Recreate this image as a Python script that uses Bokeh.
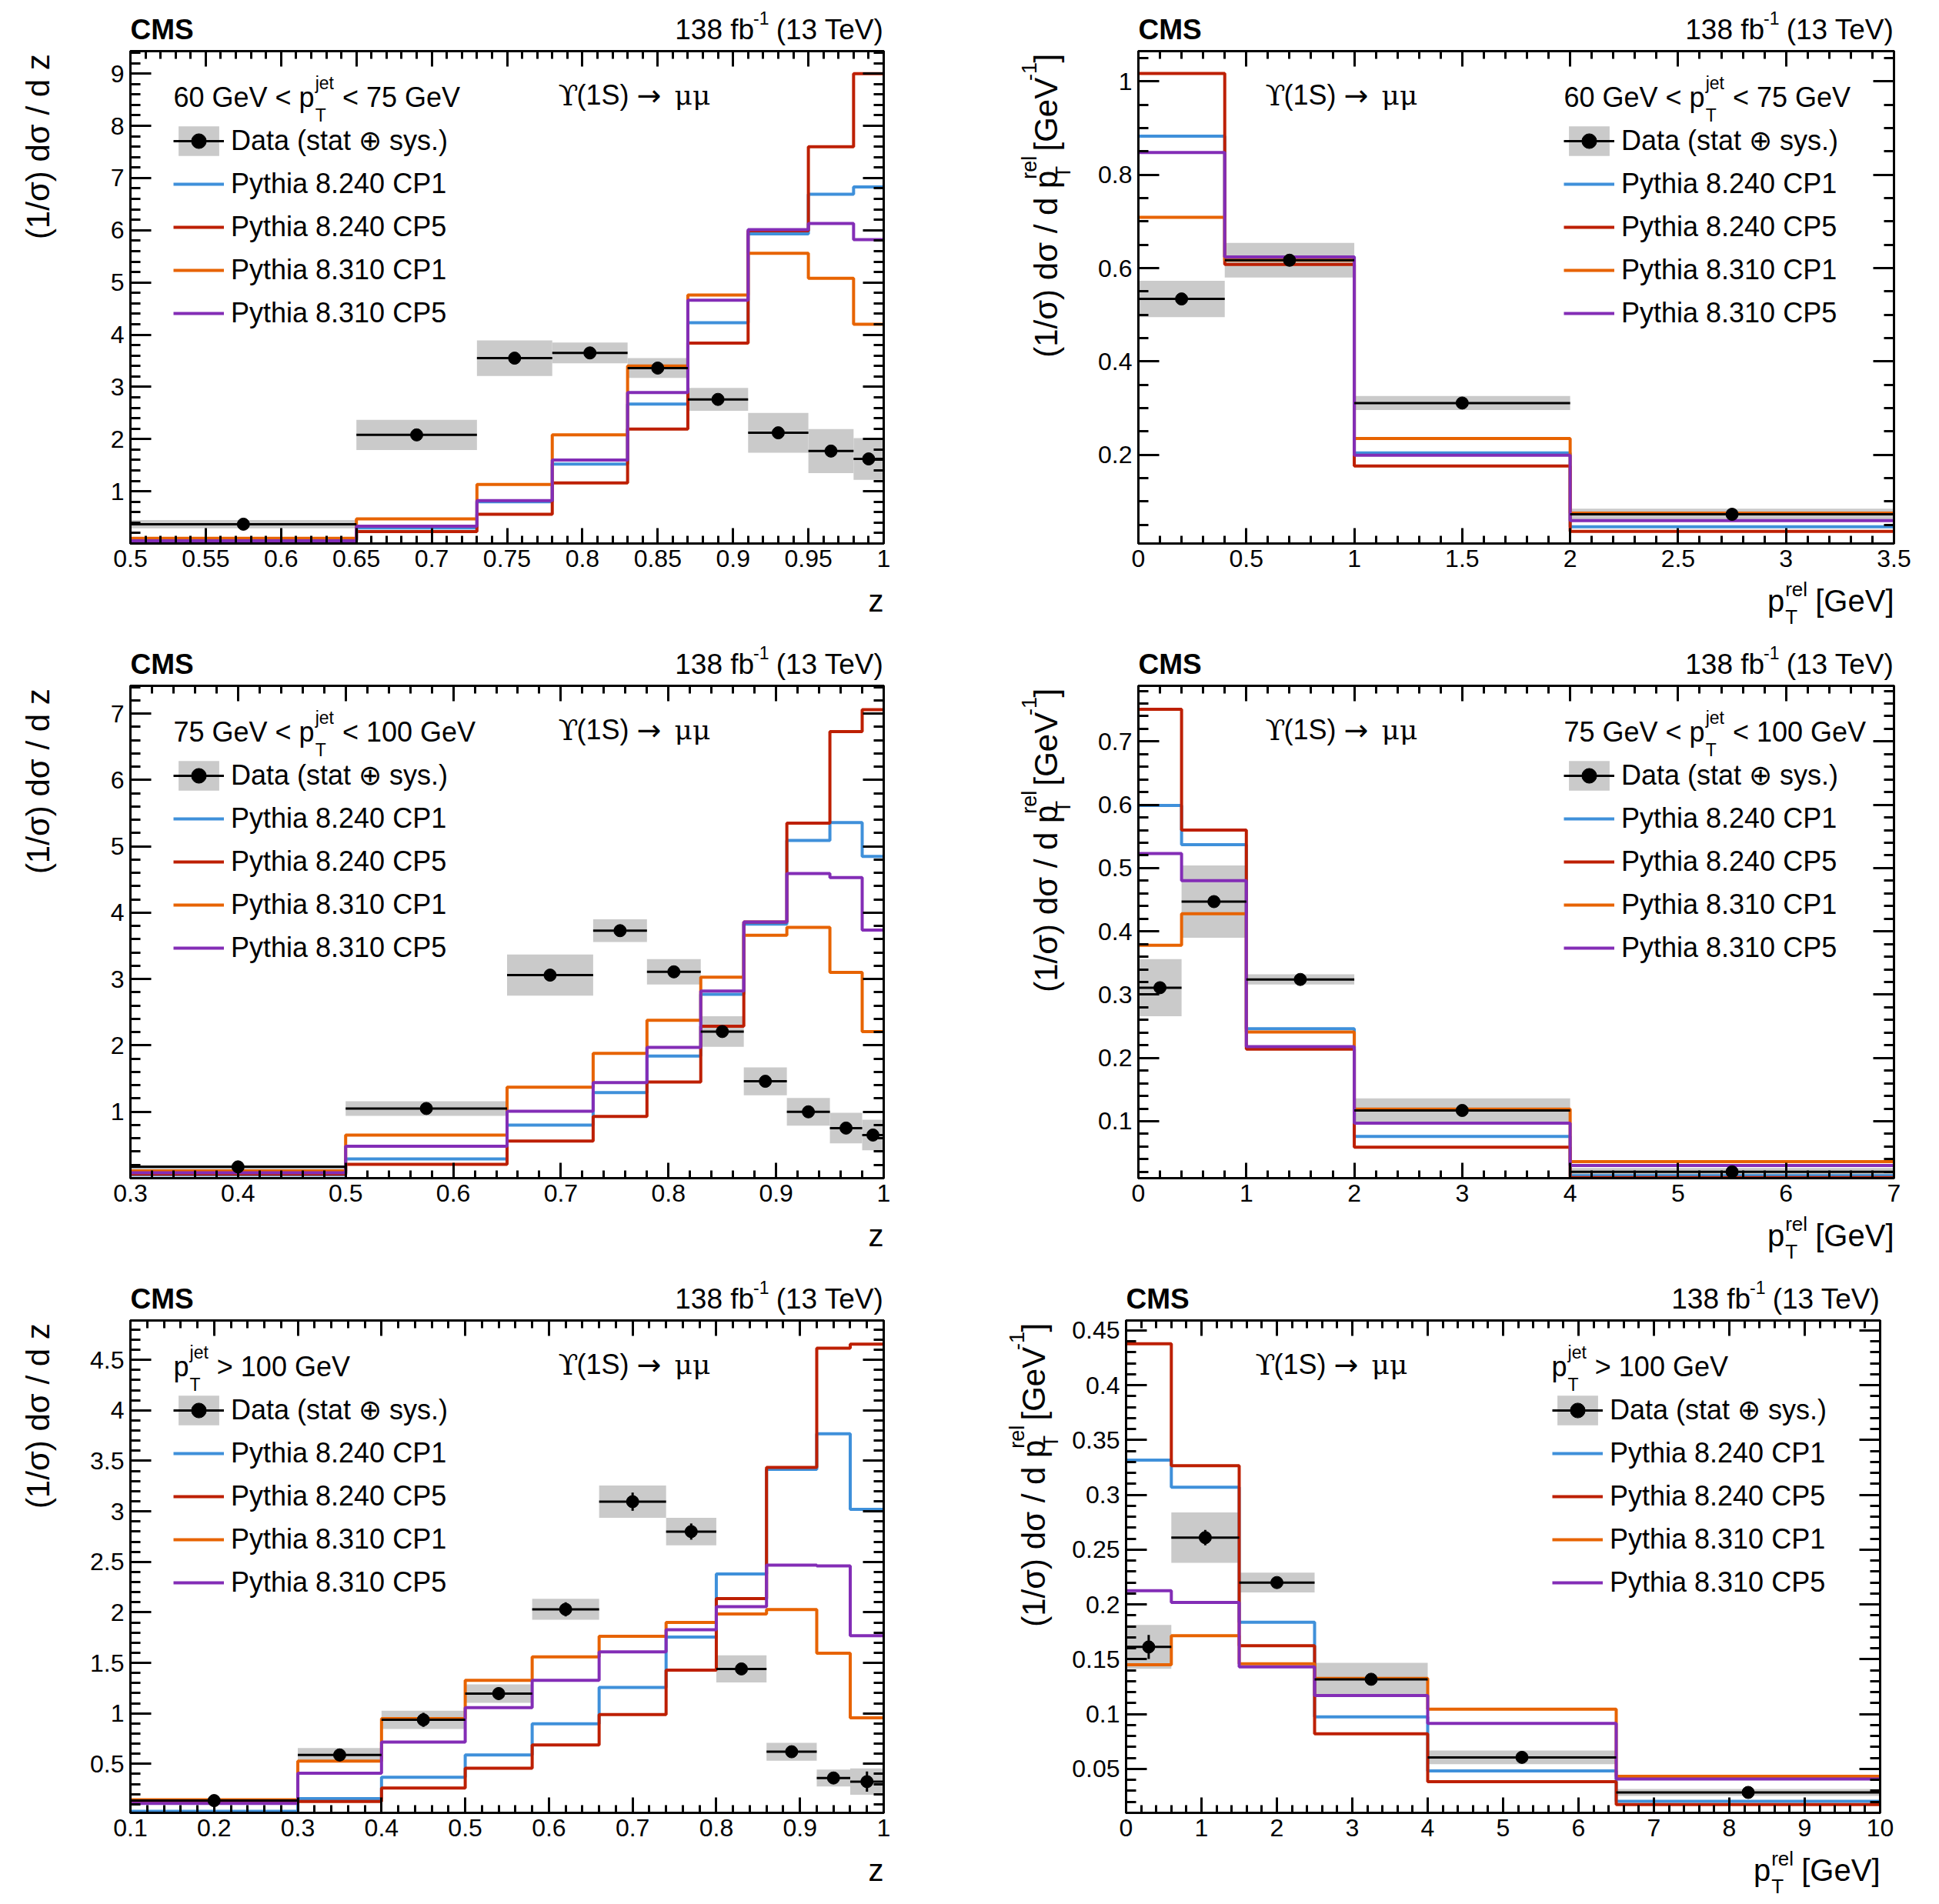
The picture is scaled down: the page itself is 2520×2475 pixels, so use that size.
import numpy as np
from math import pi
from bokeh.plotting import figure
from bokeh.models import (Range1d, LinearAxis, FixedTicker, CustomJSTickFormatter,
                          Label, Legend, LegendItem)
from bokeh.layouts import column, row
from bokeh.embed import file_html
from bokeh.resources import INLINE

FONT = "Liberation Sans"

# ---------------- common labels / colours ----------------
data_label = "Data (stat \u2295 sys.)"
mc_labels = ["Pythia 8.240 CP1", "Pythia 8.240 CP5", "Pythia 8.310 CP1", "Pythia 8.310 CP5"]
mc_colors = ["#3f90da", "#bd1f01", "#e76300", "#832db6"]
box_color = "#cacaca"

# ---------------- (a) z, 60 < pT < 75 GeV ----------------
za_edges = [0.5, 0.65, 0.73, 0.78, 0.83, 0.87, 0.91, 0.95, 0.98, 1.0]
za_data = [0.37, 2.08, 3.55, 3.65, 3.36, 2.76, 2.12, 1.77, 1.62]
za_tot = [0.08, 0.29, 0.34, 0.20, 0.19, 0.22, 0.38, 0.42, 0.40]
za_stat = [0.03, 0.06, 0.06, 0.05, 0.05, 0.05, 0.06, 0.06, 0.08]
za_cp1_240 = [0.05, 0.30, 0.80, 1.52, 2.67, 4.23, 5.93, 6.69, 6.83]
za_cp5_240 = [0.07, 0.23, 0.56, 1.16, 2.19, 3.84, 5.99, 7.60, 9.00]
za_cp1_310 = [0.10, 0.47, 1.13, 2.08, 3.40, 4.76, 5.56, 5.08, 4.20]
za_cp5_310 = [0.05, 0.33, 0.82, 1.60, 2.89, 4.66, 6.01, 6.13, 5.82]

# ---------------- (b) pTrel, 60 < pT < 75 GeV ----------------
pa_edges = [0.0, 0.4, 1.0, 2.0, 3.5]
pa_data = [0.534, 0.617, 0.311, 0.0726]
pa_tot = [0.039, 0.037, 0.015, 0.012]
pa_stat = [0.005, 0.005, 0.004, 0.002]
pa_cp1_240 = [0.883, 0.624, 0.204, 0.046]
pa_cp5_240 = [1.017, 0.608, 0.176, 0.036]
pa_cp1_310 = [0.709, 0.617, 0.235, 0.075]
pa_cp5_310 = [0.848, 0.624, 0.199, 0.059]

# ---------------- (c) z, 75 < pT < 100 GeV ----------------
zb_edges = [0.3, 0.5, 0.65, 0.73, 0.78, 0.83, 0.87, 0.91, 0.95, 0.98, 1.0]
zb_data = [0.17, 1.05, 3.06, 3.73, 3.11, 2.21, 1.46, 1.00, 0.755, 0.65]
zb_tot = [0.03, 0.11, 0.31, 0.17, 0.19, 0.23, 0.21, 0.21, 0.23, 0.23]
zb_stat = [0.02, 0.04, 0.06, 0.06, 0.05, 0.05, 0.05, 0.05, 0.05, 0.06]
zb_cp1_240 = [0.05, 0.29, 0.80, 1.29, 1.84, 2.77, 3.83, 5.09, 5.36, 4.85]
zb_cp5_240 = [0.06, 0.21, 0.56, 0.93, 1.45, 2.29, 3.86, 5.35, 6.73, 7.06]
zb_cp1_310 = [0.11, 0.65, 1.37, 1.88, 2.38, 3.03, 3.66, 3.78, 3.10, 2.21]
zb_cp5_310 = [0.08, 0.48, 1.01, 1.44, 1.97, 2.82, 3.86, 4.59, 4.53, 3.74]

# ---------------- (d) pTrel, 75 < pT < 100 GeV ----------------
pb_edges = [0.0, 0.4, 1.0, 2.0, 4.0, 7.0]
pb_data = [0.311, 0.447, 0.324, 0.117, 0.020]
pb_tot = [0.045, 0.057, 0.008, 0.019, 0.006]
pb_stat = [0.006, 0.006, 0.004, 0.002, 0.001]
pb_cp1_240 = [0.599, 0.537, 0.246, 0.076, 0.014]
pb_cp5_240 = [0.751, 0.560, 0.214, 0.059, 0.011]
pb_cp1_310 = [0.378, 0.428, 0.241, 0.119, 0.036]
pb_cp5_310 = [0.523, 0.480, 0.218, 0.097, 0.030]

# ---------------- (e) z, pT > 100 GeV ----------------
zc_edges = [0.1, 0.3, 0.4, 0.5, 0.58, 0.66, 0.74, 0.8, 0.86, 0.92, 0.96, 1.0]
zc_data = [0.136, 0.588, 0.936, 1.196, 2.03, 3.096, 2.80, 1.44, 0.62, 0.36, 0.324]
zc_tot = [0.02, 0.068, 0.091, 0.092, 0.104, 0.16, 0.136, 0.134, 0.088, 0.084, 0.13]
zc_stat = [0.06, 0.06, 0.07, 0.06, 0.07, 0.09, 0.08, 0.04, 0.03, 0.04, 0.10]
zc_cp1_240 = [0.03, 0.156, 0.368, 0.588, 0.896, 1.256, 1.756, 2.38, 3.416, 3.768, 3.02]
zc_cp5_240 = [0.128, 0.128, 0.26, 0.456, 0.688, 0.988, 1.428, 2.136, 3.436, 4.616, 4.656]
zc_cp1_310 = [0.144, 0.528, 0.948, 1.328, 1.56, 1.764, 1.90, 1.984, 2.028, 1.596, 0.956]
zc_cp5_310 = [0.108, 0.408, 0.716, 1.056, 1.328, 1.608, 1.828, 2.056, 2.468, 2.46, 1.768]

# ---------------- (f) pTrel, pT > 100 GeV ----------------
pc_edges = [0.0, 0.6, 1.5, 2.5, 4.0, 6.5, 10.0]
pc_data = [0.1613, 0.261, 0.220, 0.1318, 0.0606, 0.0286]
pc_tot = [0.020, 0.023, 0.009, 0.015, 0.0063, 0.0032]
pc_stat = [0.011, 0.007, 0.004, 0.003, 0.002, 0.001]
pc_cp1_240 = [0.3317, 0.307, 0.1838, 0.0975, 0.0482, 0.0205]
pc_cp5_240 = [0.4378, 0.3265, 0.1624, 0.082, 0.0385, 0.0176]
pc_cp1_310 = [0.145, 0.1716, 0.1459, 0.1326, 0.1046, 0.0434]
pc_cp5_310 = [0.2126, 0.2019, 0.1432, 0.117, 0.0916, 0.0408]

# ---------------- text width helper (Arial / Liberation Sans metrics) ----------------
AW = {" ": 278, "(": 333, ")": 333, "[": 278, "]": 278, "/": 278, "-": 333, ".": 278,
      "<": 584, ">": 584, "\u03c3": 560, "\u03bc": 577}
for ch in "0123456789":
    AW[ch] = 556
AW.update(dict(zip("abcdefghijklmnopqrstuvwxyz",
                   [556, 556, 500, 556, 556, 278, 556, 556, 222, 222, 500, 222, 833,
                    556, 556, 556, 556, 333, 500, 278, 556, 500, 722, 500, 500, 500])))
AW.update(dict(zip("ABCDEFGHIJKLMNOPQRSTUVWXYZ",
                   [667, 667, 722, 722, 667, 611, 778, 722, 278, 500, 667, 556, 833,
                    722, 778, 667, 778, 722, 667, 611, 722, 667, 944, 667, 667, 611])))


def tw(s, size):
    return sum(AW.get(c, 556) for c in s) / 1000.0 * size


def ticks(a, b, step):
    n = int(round((b - a) / step))
    return [round(a + i * step, 6) for i in range(n + 1)]


def lab(p, text, x, y, dx, dy, size, align="left", bold=False, angle=0.0, font=FONT):
    p.add_layout(Label(x=x, y=y, x_offset=dx, y_offset=dy, text=text, text_font=font,
                       text_font_size=f"{size}px", text_align=align, text_baseline="middle",
                       text_font_style="bold" if bold else "normal", angle=angle,
                       text_color="black"))


def vlab(p, text, xc, start, size):
    """Rotated (bottom-to-top) text whose start lies at `start`, centred on xc."""
    lab(p, text, xc, start + tw(text, size) / 2.0, 0, 0, size, align="center", angle=pi / 2)


def text_fig(w, h):
    f = figure(width=w, height=h, x_range=Range1d(0, w), y_range=Range1d(0, h),
               output_backend="svg", toolbar_location=None, min_border=0,
               x_axis_location=None, y_axis_location=None)
    f.grid.visible = False
    f.outline_line_color = None
    f.background_fill_color = "white"
    f.border_fill_color = "white"
    return f


def style_axis(ax, ticker, major_len, minor_len, labels):
    ax.ticker = ticker
    ax.axis_line_width = 3
    ax.axis_line_color = "black"
    ax.major_tick_in = major_len
    ax.major_tick_out = 0
    ax.minor_tick_in = minor_len
    ax.minor_tick_out = 0
    ax.major_tick_line_width = 3
    ax.minor_tick_line_width = 3
    ax.major_tick_line_color = "black"
    ax.minor_tick_line_color = "black"
    if labels:
        ax.formatter = CustomJSTickFormatter(code="return String(parseFloat(tick.toFixed(4)));")
        ax.major_label_text_font = FONT
        ax.major_label_text_font_size = "32px"
        ax.major_label_text_color = "black"
        ax.major_label_standoff = 8
    else:
        ax.formatter = CustomJSTickFormatter(code="return '';")
        ax.major_label_text_font_size = "0px"
        ax.major_label_standoff = 0


# layout constants (pixels)
TOP_H = 62          # height of the text strip above each panel
M_TOP = 4           # main figure top border
FRAME_H = 640
M_BOT = 46          # main figure bottom border (tick labels)
M_LEFT = 80         # main figure left border (tick labels)
MAIN_H = M_TOP + FRAME_H + M_BOT


def make_cell(c):
    x0, x1 = c["xr"]
    y0, y1 = c["yr"]
    cw, ch, wl, fw = c["cw"], c["ch"], c["wl"], c["fw"]
    mw = cw - wl
    bot_h = ch - TOP_H - MAIN_H

    p = figure(width=mw, height=MAIN_H, x_range=Range1d(x0, x1), y_range=Range1d(y0, y1),
               output_backend="svg", toolbar_location=None,
               min_border_left=M_LEFT, min_border_right=mw - M_LEFT - fw,
               min_border_top=M_TOP, min_border_bottom=M_BOT)
    p.grid.visible = False
    p.outline_line_color = "black"
    p.outline_line_width = 3
    p.background_fill_color = "white"
    p.border_fill_color = "white"

    xt = FixedTicker(ticks=c["xmaj"], minor_ticks=c["xmin"])
    yt = FixedTicker(ticks=c["ymaj"], minor_ticks=c["ymin"])
    style_axis(p.xaxis[0], xt, 20, 10, True)
    style_axis(p.yaxis[0], yt, 27, 13, True)
    top = LinearAxis()
    style_axis(top, xt, 20, 10, False)
    p.add_layout(top, "above")
    rgt = LinearAxis()
    style_axis(rgt, yt, 27, 13, False)
    p.add_layout(rgt, "right")

    edges = np.array(c["edges"], dtype=float)
    data = np.array(c["data"], dtype=float)
    tot = np.array(c["tot"], dtype=float)
    stat = np.array(c["stat"], dtype=float)
    left, right = edges[:-1], edges[1:]
    centers = 0.5 * (left + right)

    r_box = p.quad(left=left, right=right, bottom=data - tot, top=data + tot,
                   fill_color=box_color, line_color=None)
    mc_r = []
    for vals, col in zip(c["mc"], mc_colors):
        r = p.step(x=list(edges), y=list(vals) + [vals[-1]], mode="after",
                   line_color=col, line_width=4)
        mc_r.append(r)
    r_h = p.segment(x0=left, y0=data, x1=right, y1=data, line_color="black", line_width=3)
    p.segment(x0=centers, y0=data - stat, x1=centers, y1=data + stat,
              line_color="black", line_width=3)
    r_pt = p.scatter(x=centers, y=data, size=16, marker="circle",
                     fill_color="black", line_color="black")

    items = [LegendItem(label=data_label, renderers=[r_box, r_h, r_pt])]
    items += [LegendItem(label=l, renderers=[r]) for l, r in zip(mc_labels, mc_r)]
    leg = Legend(items=items, location=(c["leg_dx"] - 4, 275), orientation="vertical",
                 glyph_width=66, glyph_height=48, label_height=48, label_standoff=9,
                 spacing=8, padding=0, margin=0, border_line_alpha=0,
                 background_fill_alpha=0, label_text_font=FONT,
                 label_text_font_size="36px", label_text_baseline="middle",
                 label_text_color="black")
    p.add_layout(leg)

    sp36 = tw(" ", 36)

    # jet pT selection (inside frame)
    m1, m2 = c["sel"]
    hx = c["hdr_dx"]
    lab(p, m1, x0, y1, hx, -60, 36)
    xs = hx + tw(m1, 36) + 1
    lab(p, "jet", x0, y1, xs, -41, 23)
    lab(p, "T", x0, y1, xs, -83, 23)
    lab(p, m2, x0, y1, xs + max(tw("jet", 23), tw("T", 23)) + 1 + sp36, -60, 36)

    # decay channel
    ux = c["ups_dx"]
    lab(p, "\u03d2", x0, y1, ux + 4, -57, 38, font="DejaVu Serif")
    lab(p, "(1S)", x0, y1, ux + 28, -57, 36)
    lab(p, "\u2192", x0, y1, ux + 106, -57, 38, font="DejaVu Sans")
    lab(p, "\u03bc\u03bc", x0, y1, ux + 155, -57, 36, font="DejaVu Serif")

    # ---- strip above: CMS + luminosity ----
    t = text_fig(cw, TOP_H)
    fl = wl + M_LEFT            # frame left within the cell
    fr = fl + fw                # frame right within the cell
    ft = -M_TOP                 # frame top, in strip coordinates
    LS = 37
    lab(t, "CMS", fl, ft + 28, 0, 0, LS, bold=True)
    wa = tw("(13 TeV)", LS) + 5
    wb = tw("-1", 23)
    lab(t, "(13 TeV)", fr, ft + 28, 0, 0, LS, align="right")
    lab(t, "-1", fr, ft + 43, -wa, 0, 23, align="right")
    lab(t, "138 fb", fr, ft + 28, -wa - wb + 1, 0, LS, align="right")

    # ---- strip left: y title ----
    lf = text_fig(wl, MAIN_H)
    ytop = MAIN_H - M_TOP
    xc = wl + M_LEFT - 120
    M, S = 42, 27
    sp = tw(" ", M)
    if c["kind"] == "z":
        txt = "(1/\u03c3) d\u03c3 / d z"
        lab(lf, txt, xc, ytop, 0, 0, M, align="right", angle=pi / 2)
    else:
        main1 = "(1/\u03c3) d\u03c3 / d p"
        w1 = tw(main1, M)
        ws = max(tw("rel", S), tw("T", S))
        w2 = tw("[GeV", M) + sp
        w3 = tw("-1", S)
        w4 = tw("]", M)
        L = w1 + ws + w2 + w3 + w4 + 2
        pos = ytop - L
        vlab(lf, main1, xc, pos, M)
        vlab(lf, "rel", xc - 22, pos + w1 + 1, S)
        vlab(lf, "T", xc + 22, pos + w1 + 1, S)
        pos2 = pos + w1 + ws + 1
        vlab(lf, "[GeV", xc, pos2 + sp, M)
        vlab(lf, "-1", xc - 22, pos2 + w2, S)
        vlab(lf, "]", xc, pos2 + w2 + w3 + 1, M)

    # ---- strip below: x title ----
    b = text_fig(cw, bot_h)
    fb = bot_h + M_BOT          # frame bottom, in strip coordinates
    MX, SX = 40, 26
    if c["kind"] == "z":
        lab(b, "z", fr, fb - 74, 0, 0, MX, align="right")
    else:
        wg = tw("[GeV]", MX) + tw(" ", MX)
        wr = tw("rel", SX)
        lab(b, "[GeV]", fr, fb - 74, 0, 0, MX, align="right")
        lab(b, "p", fr - wg - wr, fb - 74, 0, 0, MX, align="right")
        lab(b, "rel", fr - wg - wr + 1, fb - 59, 0, 0, SX)
        lab(b, "T", fr - wg - wr + 1, fb - 95, 0, 0, SX)

    return column(t, row(lf, p), b)


sel_a = ("60 GeV < p", "< 75 GeV")
sel_b = ("75 GeV < p", "< 100 GeV")
sel_c = ("p", "> 100 GeV")

LEFT = dict(cw=1260, wl=89, fw=979, leg_dx=60, hdr_dx=56, ups_dx=552, kind="z")
RIGHT = dict(cw=1258, wl=139, fw=982, leg_dx=557, hdr_dx=553, ups_dx=161, kind="pt")
RIGHT3 = dict(cw=1258, wl=123, fw=980, leg_dx=558, hdr_dx=553, ups_dx=164, kind="pt")

panels = [
    dict(LEFT, ch=825, edges=za_edges, data=za_data, tot=za_tot, stat=za_stat,
         mc=[za_cp1_240, za_cp5_240, za_cp1_310, za_cp5_310],
         xr=(0.5, 1.0), yr=(0.0, 9.43),
         xmaj=ticks(0.5, 1.0, 0.05), xmin=ticks(0.5, 1.0, 0.01),
         ymaj=ticks(1, 9, 1), ymin=ticks(0.2, 9.4, 0.2), sel=sel_a),
    dict(RIGHT, ch=825, edges=pa_edges, data=pa_data, tot=pa_tot, stat=pa_stat,
         mc=[pa_cp1_240, pa_cp5_240, pa_cp1_310, pa_cp5_310],
         xr=(0.0, 3.5), yr=(0.01, 1.065),
         xmaj=ticks(0, 3.5, 0.5), xmin=ticks(0, 3.5, 0.1),
         ymaj=ticks(0.2, 1.0, 0.2), ymin=ticks(0.05, 1.05, 0.05), sel=sel_a),
    dict(LEFT, ch=825, edges=zb_edges, data=zb_data, tot=zb_tot, stat=zb_stat,
         mc=[zb_cp1_240, zb_cp5_240, zb_cp1_310, zb_cp5_310],
         xr=(0.3, 1.0), yr=(0.0, 7.42),
         xmaj=ticks(0.3, 1.0, 0.1), xmin=ticks(0.3, 1.0, 0.02),
         ymaj=ticks(1, 7, 1), ymin=ticks(0.2, 7.4, 0.2), sel=sel_b),
    dict(RIGHT, ch=825, edges=pb_edges, data=pb_data, tot=pb_tot, stat=pb_stat,
         mc=[pb_cp1_240, pb_cp5_240, pb_cp1_310, pb_cp5_310],
         xr=(0.0, 7.0), yr=(0.01, 0.788),
         xmaj=ticks(0, 7, 1), xmin=ticks(0, 7, 0.2),
         ymaj=ticks(0.1, 0.7, 0.1), ymin=ticks(0.02, 0.78, 0.02), sel=sel_b),
    dict(LEFT, ch=823, edges=zc_edges, data=zc_data, tot=zc_tot, stat=zc_stat,
         mc=[zc_cp1_240, zc_cp5_240, zc_cp1_310, zc_cp5_310],
         xr=(0.1, 1.0), yr=(0.015, 4.89),
         xmaj=ticks(0.1, 1.0, 0.1), xmin=ticks(0.1, 1.0, 0.02),
         ymaj=ticks(0.5, 4.5, 0.5), ymin=ticks(0.1, 4.8, 0.1), sel=sel_c),
    dict(RIGHT3, ch=823, edges=pc_edges, data=pc_data, tot=pc_tot, stat=pc_stat,
         mc=[pc_cp1_240, pc_cp5_240, pc_cp1_310, pc_cp5_310],
         xr=(0.0, 10.0), yr=(0.01, 0.459),
         xmaj=ticks(0, 10, 1), xmin=ticks(0, 10, 0.2),
         ymaj=ticks(0.05, 0.45, 0.05), ymin=ticks(0.01, 0.45, 0.01), sel=sel_c),
]

cells = [make_cell(c) for c in panels]
layout = column(row(cells[0], cells[1]), row(cells[2], cells[3]), row(cells[4], cells[5]))

with open("out.html", "w") as f:
    f.write(file_html(layout, INLINE))
